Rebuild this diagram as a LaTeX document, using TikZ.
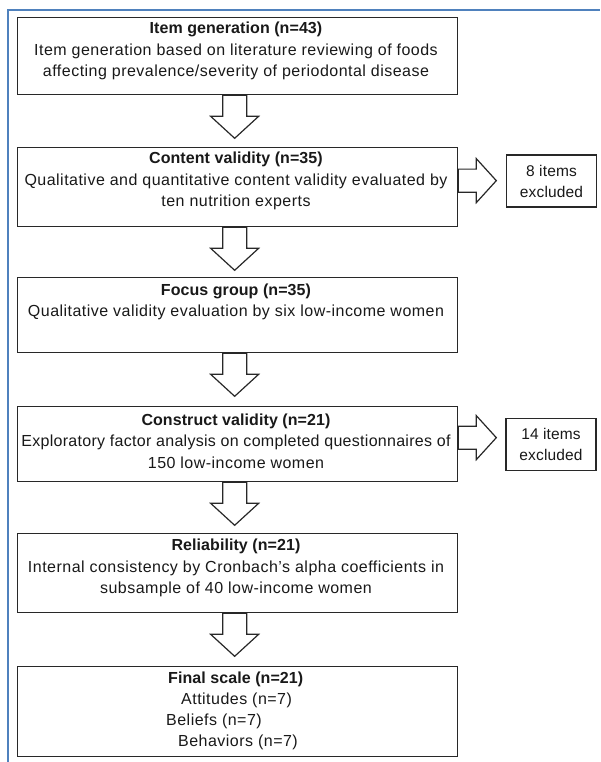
\documentclass[tikz,border=0pt]{standalone}
\usepackage{fontspec}
\setmainfont{Liberation Sans}[LetterSpace=3,BoldFeatures={LetterSpace=0.5}]
\newfontfamily\sidefont{Liberation Sans}[LetterSpace=1]
\usetikzlibrary{calc}
\definecolor{framblue}{RGB}{79,129,189}
\definecolor{edge}{RGB}{40,40,40}
\newcommand\dnarr[1]{\draw[blk] ($(#1.south)+(-15,0)$) -- ++(0,21) -- ++(-12,0) -- ++(24,22) -- ++(24,-22) -- ++(-12,0) -- ++(0,-21) -- cycle;}
\newcommand\rtarr[1]{\draw[blk] ($(#1.east)+(0,-18)$) -- ++(18,0) -- ++(0,-10.5) -- ++(20,22) -- ++(-20,22) -- ++(0,-10.5) -- ++(-18,0) -- cycle;}
\begin{document}
\begin{tikzpicture}[x=1pt,y=-1pt,
  mainbox/.style={draw=edge,line width=1.3pt,minimum width=440pt,inner sep=0pt,anchor=north west},
  sidebox/.style={draw=edge,line width=1.3pt,inner sep=0pt,minimum width=90pt,minimum height=52pt},
  txt/.style={inner sep=0pt,align=center,font=\fontsize{16}{21.5}\selectfont,text=black!90},
  stxt/.style={inner sep=0pt,align=center,font=\sidefont\fontsize{15.5}{21}\selectfont,text=black!90},
  ltxt/.style={inner sep=0pt,anchor=west,font=\fontsize{16}{18}\selectfont,text=black!90},
  blk/.style={draw=edge,line width=1.2pt,fill=white,line join=miter}]
\useasboundingbox (0,0) rectangle (600,762);
\fill[white] (0,0) rectangle (600,762);
\draw[framblue,line width=2pt] (8,762) -- (8,10) -- (600,10);
% boxes
\node[mainbox,minimum height=77pt] (b1) at (17,17) {};
\node[mainbox,minimum height=79pt] (b2) at (17,147) {};
\node[mainbox,minimum height=75pt] (b3) at (17,277) {};
\node[mainbox,minimum height=75pt] (b4) at (17,406) {};
\node[mainbox,minimum height=79pt] (b5) at (17,533) {};
\node[mainbox,minimum height=90pt] (b6) at (17,666) {};
\node[sidebox] (s1) at (551.5,181) {};
\node[sidebox] (s2) at (551,444.5) {};
% texts
\node[txt] (t1) at (236,51) {\textbf{Item generation (n=43)}\\Item generation based on literature reviewing of foods\\affecting prevalence/severity of periodontal disease};
\node[txt] (t2) at (236,181) {\textbf{Content validity (n=35)}\\Qualitative and quantitative content validity evaluated by\\ten nutrition experts};
\node[txt] (t3) at (236,302) {\textbf{Focus group (n=35)}\\Qualitative validity evaluation by six low-income women};
\node[txt] (t4) at (236,441) {\textbf{Construct validity (n=21)}\\{\addfontfeature{LetterSpace=1.8}Exploratory factor analysis on completed questionnaires of}\\150 low-income women};
\node[txt] (t5) at (236,568) {\textbf{Reliability (n=21)}\\Internal consistency by Cronbach’s alpha coefficients in\\subsample of 40 low-income women};
\node[ltxt] (t6a) at (168,679) {\textbf{Final scale (n=21)}};
\node[ltxt] (t6b) at (181,700) {Attitudes (n=7)};
\node[ltxt] (t6c) at (166,721) {Beliefs (n=7)};
\node[ltxt] (t6d) at (178,742) {Behaviors (n=7)};
\node[stxt] (ts1) at (s1) {8 items\\excluded};
\node[stxt] (ts2) at (s2) {14 items\\excluded};
% arrows
\dnarr{b1}
\dnarr{b2}
\dnarr{b3}
\dnarr{b4}
\dnarr{b5}
\rtarr{b2}
\rtarr{b4}
\end{tikzpicture}
\end{document}
